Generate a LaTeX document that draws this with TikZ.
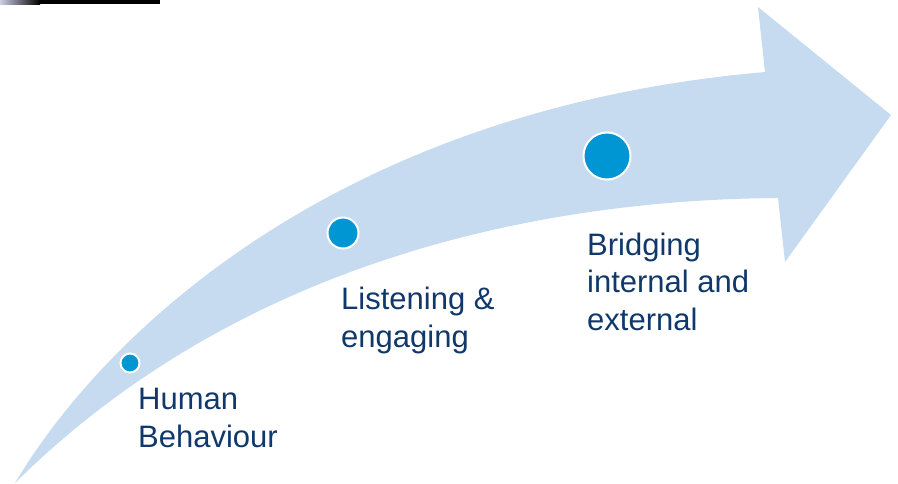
\documentclass[tikz,border=0pt]{standalone}
\definecolor{band}{HTML}{C6DBF0}
\definecolor{dotblue}{HTML}{0095D3}
\definecolor{navy}{HTML}{10386B}
\usepackage{fontspec}
\setmainfont{Liberation Sans}
\usepackage{tikz}
\usetikzlibrary{positioning}
\tikzset{
  dot/.style={circle,draw=white,line width=2pt,fill=dotblue,inner sep=0pt},
  step_txt/.style={font=\fontsize{31}{37.5}\selectfont\color{navy},align=left,
    inner sep=0pt,anchor=base west},
}

\begin{document}
\begin{tikzpicture}[x=1pt,y=-1pt]
      \useasboundingbox (0,0) rectangle (898,483);
      % strip along the top edge
      \shade[left color=gray!70!blue!30,right color=black] (0,0) rectangle (40,4);
      \fill[black] (40,0) rectangle (160,4);
      % curved arrow
      \fill[band] (15,483) .. controls (100,340) and (330,110) .. (765,72)
        -- (758,7) -- (891,115) -- (785,262) -- (778,198)
        .. controls (520,200) and (230,270) .. (15,483) -- cycle;
      \node[dot,minimum size=19pt] (d1) at (130,363) {};
      \node[dot,minimum size=31pt] (d2) at (343,233) {};
      \node[dot,minimum size=47pt] (d3) at (607,156) {};
      % base anchor sits on the last line
      \node[step_txt] (t1) at (138,447) {Human\\Behaviour};
      \node[step_txt] (t2) at (341,347) {Listening \&\\engaging};
      \node[step_txt] (t3) at (587,330) {Bridging\\internal and\\external};
    \end{tikzpicture}
\end{document}
